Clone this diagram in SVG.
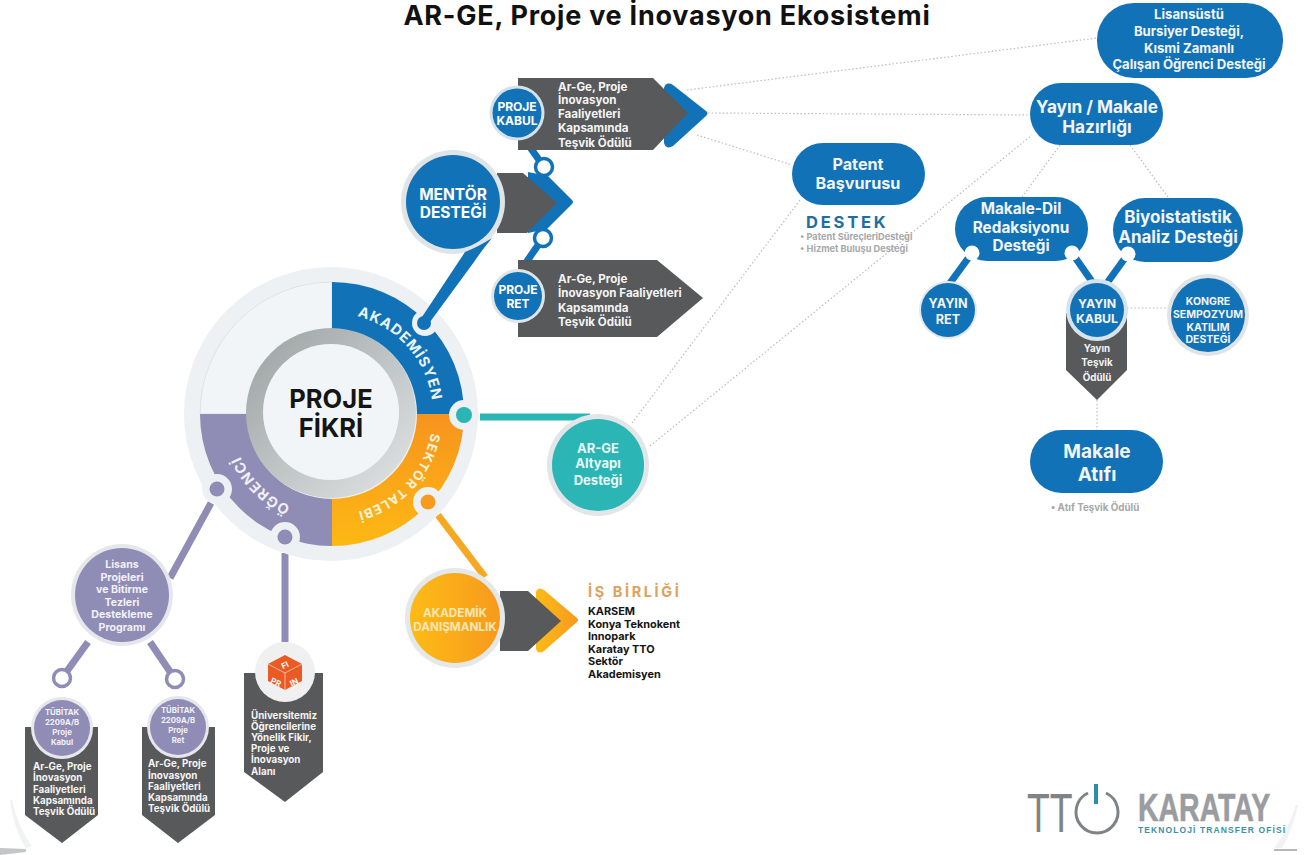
<svg xmlns="http://www.w3.org/2000/svg" xmlns:xlink="http://www.w3.org/1999/xlink" width="1310" height="855" viewBox="0 0 1310 855">
<style>
text{font-family:Inter,"Noto Sans","Liberation Sans",sans-serif;font-weight:700}
.w{fill:#fff}.m{text-anchor:middle}.d{fill:#f2f5f7}
.blue{fill:#1272b8}.gray{fill:#58595b}.halo{fill:#dfe4e7}.pur{fill:#8f8cb5}
.dot{fill:none;stroke:#b9bcbe;stroke-width:1.2;stroke-dasharray:1.5 2.2}
.ln{fill:none;stroke-width:7}
.lb{stroke:#1272b8}.lp{stroke:#8f8cb5}.lo{stroke:#f7a823}.lt{stroke:#2bb5b5}
.ring{stroke-width:3.5;fill:#fff}
.note{fill:#a6a8aa;font-size:9.2px}
.t10{font-size:9.8px;fill:#f4f4f4}.t12{font-size:11.6px;fill:#f4f4f4}
.list{font-size:10.9px;fill:#151515}
.logo{font-family:"Liberation Sans",sans-serif}
</style>
<defs>
<linearGradient id="or" x1="0" y1="0" x2="0" y2="1"><stop offset="0" stop-color="#f7931e"/><stop offset="1" stop-color="#fdb913"/></linearGradient>
<linearGradient id="ak" x1="0" y1="0" x2="1" y2="0"><stop offset="0" stop-color="#fdbb16"/><stop offset="1" stop-color="#f79a1e"/></linearGradient>
<linearGradient id="inn" x1="0" y1="0" x2="1" y2="1"><stop offset="0" stop-color="#9aa1a1"/><stop offset="1" stop-color="#e3e6e6"/></linearGradient>
<path id="a1" d="M332,313A101,101 0 0 1 433,414"/>
<path id="a2" d="M433,414A101,101 0 0 1 332,515"/>
<path id="a3" d="M332,515A101,101 0 0 1 231,414"/>
</defs>
<rect width="1310" height="855" fill="#fff"/>

<g id="corners">
<path d="M0,848L26,849L26,852L0,855Z" fill="#c4c6c8"/><path d="M1274,849L1297,849L1297,851L1274,851Z" fill="#b4b6b8"/>
<path d="M12,800Q18,828 32,846L26,848Q14,830 10,800Z" fill="#f1f2f3"/><path d="M1296,805Q1288,830 1274,848L1282,848Q1292,832 1298,805Z" fill="#f1f2f3"/>
</g>

<text id="title" x="667" y="25" class="m" font-size="27" fill="#111" style="letter-spacing:.75px">AR-GE, Proje ve İnovasyon Ekosistemi</text>

<g id="connectors">
<path class="dot" d="M687,90L1097,38"/>
<path class="dot" d="M708,113L1030,115"/>
<path class="dot" d="M697,135L792,165"/>
<path class="dot" d="M632,423L800,200"/>
<path class="dot" d="M650,446L1032,135"/>
<path class="dot" d="M1060,145L1022,197"/>
<path class="dot" d="M1130,145L1168,197"/>
<path class="dot" d="M1127,308L1170,308"/>
<path class="dot" d="M1097,400L1097,430"/>
<path class="ln lb" d="M527,143L544,167"/>
<path class="ln lb" d="M543,238L523,267"/>
<path class="ln lb" d="M972,253L950,283"/>
<path class="ln lb" d="M1072,253L1093,283"/>
<path class="ln lb" d="M1128,254L1107,283"/>
<path class="ln lt" d="M480,417L590,417"/>
<path class="ln lo" d="M438,515L485,577"/>
<path class="ln lp" d="M211,503L170,578"/>
<path class="ln lp" d="M88,642L62,678"/>
<path class="ln lp" d="M150,642L175,679"/>
<path class="ln lp" d="M285,553L285,642"/>
</g>

<g id="proje-fikri">
<circle cx="331" cy="414" r="147" fill="#edf1f3"/>
<path d="M200,414A132,132 0 0 1 332,282L332,329A85,85 0 0 0 247,414Z" fill="#f2f5f7" stroke="#dfe3e6"/>
<path class="blue" d="M332,282A132,132 0 0 1 464,414L417,414A85,85 0 0 0 332,329Z"/>
<path fill="url(#or)" d="M464,414A132,132 0 0 1 332,546L332,499A85,85 0 0 0 417,414Z"/>
<path class="pur" d="M332,546A132,132 0 0 1 200,414L247,414A85,85 0 0 0 332,499Z"/>
<circle cx="331" cy="413" r="85" fill="url(#inn)"/>
<circle cx="331" cy="412" r="68" fill="#f2f5f7"/>
<text x="331" y="408" class="m" font-size="25.5" fill="#151515">PROJE</text>
<text x="331" y="437" class="m" font-size="25.5" fill="#151515">FİKRİ</text>
<text font-size="14.5" fill="#e9f4fb" style="letter-spacing:1px"><textPath xlink:href="#a1" href="#a1" startOffset="54%" text-anchor="middle">AKADEMİSYEN</textPath></text>
<text font-size="13" fill="#fff3da" style="letter-spacing:1px"><textPath xlink:href="#a2" href="#a2" startOffset="48%" text-anchor="middle">SEKTÖR TALEBİ</textPath></text>
<text font-size="14.5" fill="#f0effa" style="letter-spacing:1px"><textPath xlink:href="#a3" href="#a3" startOffset="50%" text-anchor="middle">ÖĞRENCİ</textPath></text>
<circle cx="425" cy="323" r="13" fill="#edf1f3"/>
<circle cx="464" cy="415" r="15" fill="#edf1f3"/><circle cx="464" cy="415" r="8" fill="#2bb5b5"/>
<circle cx="428" cy="502" r="15" fill="#edf1f3"/><circle cx="428" cy="502" r="7.5" fill="#f79a1e"/>
<circle cx="217" cy="489" r="15" fill="#edf1f3"/><circle cx="217" cy="489" r="7.5" class="pur"/>
<circle cx="285" cy="537" r="15" fill="#edf1f3"/><circle cx="285" cy="537" r="7.5" class="pur"/>
</g>

<g id="proje-kabul">
<path class="blue" d="M664,88Q666,81 673,85L706,111Q709,113 706,116L673,146Q666,150 664,143Z"/>
<path class="gray" d="M518,78L653,78L688,113L653,150L518,150Z"/>
<circle cx="517" cy="113" r="27.5" fill="#d6e2ea"/><circle cx="517" cy="113" r="24.5" class="blue"/>
<text class="m w" x="517" y="111" font-size="12">PROJE</text><text class="m w" x="517" y="125" font-size="12">KABUL</text>
<g class="t12"><text x="558" y="91">Ar-Ge, Proje</text><text x="558" y="104">İnovasyon</text><text x="558" y="118">Faaliyetleri</text><text x="558" y="132">Kapsamında</text><text x="558" y="147">Teşvik Ödülü</text></g>
</g>

<g id="mentor-destegi">
<path class="blue" d="M528,172L548,176L572,200Q574,202 572,204L547,229L528,233Z"/>
<path class="gray" d="M497,173L523,173L557,203L527,233L497,233Z"/>
<circle cx="453" cy="202" r="52" class="halo"/><circle cx="453" cy="202" r="47" class="blue"/>
<text class="m w" x="453" y="200" font-size="15.5">MENTÖR</text><text class="m w" x="453" y="218" font-size="15.5">DESTEĞİ</text>
</g>

<g id="proje-ret">
<path class="gray" d="M518,260L657,260L703,298L657,337L518,337Z"/>
<circle cx="518" cy="296" r="27" fill="#dfe6ea"/><circle cx="518" cy="296" r="24" class="blue"/>
<text class="m w" x="518" y="294" font-size="12">PROJE</text><text class="m w" x="518" y="308" font-size="12">RET</text>
<g class="t12"><text x="558" y="283">Ar-Ge, Proje</text><text x="558" y="297">İnovasyon Faaliyetleri</text><text x="558" y="312">Kapsamında</text><text x="558" y="326">Teşvik Ödülü</text></g>
</g>

<g id="arge-altyapi">
<circle cx="598" cy="465" r="51" fill="#e2e6e8"/><circle cx="598" cy="465" r="46" fill="#2bb5b5"/>
<g class="m" font-size="13" fill="#eaf8f8"><text x="598" y="453">AR-GE</text><text x="598" y="468">Altyapı</text><text x="598" y="485">Desteği</text></g>
</g>

<g id="akademik-danismanlik">
<path fill="url(#ak)" d="M536,592Q538,586 544,590L577,618Q579,620 577,622L544,651Q538,655 536,649Z"/>
<path class="gray" d="M500,591L528,591L561,621L528,651L500,651Z"/>
<circle cx="455" cy="618" r="50" fill="#e4e8ea"/><circle cx="455" cy="618" r="45" fill="url(#ak)"/>
<g class="m" font-size="11.7" fill="#fbe7b5"><text x="455" y="617">AKADEMİK</text><text x="455" y="631">DANIŞMANLIK</text></g>
</g>

<g id="is-birligi">
<text x="588" y="597" font-size="14.5" fill="#dca25e" style="letter-spacing:2.6px">İŞ BİRLİĞİ</text>
<g class="list"><text x="588" y="615">KARSEM</text><text x="588" y="628">Konya Teknokent</text><text x="588" y="640">Innopark</text><text x="588" y="653">Karatay TTO</text><text x="588" y="665">Sektör</text><text x="588" y="678">Akademisyen</text></g>
</g>

<g id="lisans-destek">
<circle cx="122" cy="595" r="51" fill="#e6e7ec"/><circle cx="122" cy="595" r="47" class="pur"/>
<g class="m" font-size="10.6" fill="#f2f1f8"><text x="122" y="568">Lisans</text><text x="122" y="581">Projeleri</text><text x="122" y="593">ve Bitirme</text><text x="122" y="606">Tezleri</text><text x="122" y="618">Destekleme</text><text x="122" y="631">Programı</text></g>
</g>

<g id="tubitak-kabul">
<path class="gray" d="M25,727L98,727L98,815L62,843L25,815Z"/>
<circle cx="62" cy="728" r="31" fill="#e6e7ec"/><circle cx="62" cy="728" r="28" class="pur"/>
<g class="m" font-size="7.8" fill="#f2f1f8"><text x="62" y="715">TÜBİTAK</text><text x="62" y="725">2209A/B</text><text x="62" y="735">Proje</text><text x="62" y="745">Kabul</text></g>
<g class="t10"><text x="33" y="770">Ar-Ge, Proje</text><text x="33" y="781">İnovasyon</text><text x="33" y="793">Faaliyetleri</text><text x="33" y="804">Kapsamında</text><text x="33" y="815">Teşvik Ödülü</text></g>
</g>

<g id="tubitak-ret">
<path class="gray" d="M142,727L215,727L215,815L178,843L142,815Z"/>
<circle cx="178" cy="727" r="31" fill="#e6e7ec"/><circle cx="178" cy="727" r="28" class="pur"/>
<g class="m" font-size="7.8" fill="#f2f1f8"><text x="178" y="713">TÜBİTAK</text><text x="178" y="723">2209A/B</text><text x="178" y="733">Proje</text><text x="178" y="743">Ret</text></g>
<g class="t10"><text x="148" y="767">Ar-Ge, Proje</text><text x="148" y="779">İnovasyon</text><text x="148" y="790">Faaliyetleri</text><text x="148" y="801">Kapsamında</text><text x="148" y="812">Teşvik Ödülü</text></g>
</g>

<g id="fikir-proje-inovasyon">
<path class="gray" d="M244,673L323,673L323,772L285,802L244,772Z"/>
<circle cx="285" cy="672" r="30" fill="#f0f0f0"/>
<path d="M285,655L302,664L302,681L285,690L268,681L268,664Z" fill="#ea5a24"/>
<path d="M268,664L285,673L302,664M285,673L285,690" fill="none" stroke="#f7b79d" stroke-width="1"/>
<text x="285" y="668" class="m w" font-size="8" transform="rotate(-25 285 665)">FI</text>
<text x="276" y="685" class="m w" font-size="8" transform="rotate(25 276 682)">PR</text>
<text x="294" y="685" class="m w" font-size="8" transform="rotate(-25 294 682)">IN</text>
<g class="t10"><text x="251" y="719">Üniversitemiz</text><text x="251" y="730">Öğrencilerine</text><text x="251" y="741">Yönelik Fikir,</text><text x="251" y="752">Proje ve</text><text x="251" y="763">İnovasyon</text><text x="251" y="775">Alanı</text></g>
</g>

<g id="patent">
<rect x="792" y="143" width="133" height="62" rx="31" class="blue"/>
<g class="m d" font-size="16.2"><text x="858" y="170">Patent</text><text x="858" y="189">Başvurusu</text></g>
<text x="806" y="228" font-size="16.5" fill="#1c6ea4" style="letter-spacing:2.8px">DESTEK</text>
<text x="800" y="240" class="note">• Patent SüreçleriDesteği</text>
<text x="800" y="252" class="note">• Hizmet Buluşu Desteği</text>
</g>

<g id="lisansustu">
<rect x="1097" y="3" width="186" height="75" rx="37" class="blue"/>
<g class="m d" font-size="13.1"><text x="1189" y="19">Lisansüstü</text><text x="1189" y="36">Bursiyer Desteği,</text><text x="1189" y="53">Kısmi Zamanlı</text><text x="1189" y="69">Çalışan Öğrenci Desteği</text></g>
</g>

<g id="yayin-makale">
<rect x="1030" y="83" width="133" height="62" rx="31" class="blue"/>
<g class="m d" font-size="17.2"><text x="1097" y="113">Yayın / Makale</text><text x="1097" y="133">Hazırlığı</text></g>
</g>

<g id="makale-dil">
<rect x="955" y="197" width="133" height="64" rx="32" class="blue"/>
<g class="m d" font-size="15.3"><text x="1021" y="214">Makale-Dil</text><text x="1021" y="233">Redaksiyonu</text><text x="1021" y="251">Desteği</text></g>
</g>

<g id="biyoistatistik">
<rect x="1113" y="198" width="130" height="64" rx="32" class="blue"/>
<g class="m d" font-size="17"><text x="1178" y="223">Biyoistatistik</text><text x="1178" y="243">Analiz Desteği</text></g>
</g>

<g id="yayin-ret">
<circle cx="948" cy="310" r="29" fill="#e2e8ec"/><circle cx="948" cy="310" r="27" class="blue"/>
<g class="m d" font-size="12.6"><text x="948" y="308">YAYIN</text><text x="948" y="324">RET</text></g>
</g>

<g id="yayin-kabul">
<path class="gray" d="M1066,313L1127,313L1127,370L1097,400L1066,370Z"/>
<circle cx="1097" cy="310" r="31" fill="#d8e4ec"/><circle cx="1097" cy="310" r="27" class="blue"/>
<g class="m d" font-size="12.3"><text x="1097" y="308">YAYIN</text><text x="1097" y="323">KABUL</text></g>
<g class="m t10"><text x="1097" y="352">Yayın</text><text x="1097" y="366">Teşvik</text><text x="1097" y="381">Ödülü</text></g>
</g>

<g id="kongre">
<circle cx="1208" cy="315" r="41" fill="#e0e4e7"/><circle cx="1208" cy="315" r="37" class="blue"/>
<g class="m d" font-size="10.5"><text x="1208" y="305">KONGRE</text><text x="1208" y="318">SEMPOZYUM</text><text x="1208" y="331">KATILIM</text><text x="1208" y="343">DESTEĞİ</text></g>
</g>

<g id="makale-atifi">
<rect x="1030" y="430" width="133" height="63" rx="31.5" class="blue"/>
<g class="m d" font-size="19"><text x="1097" y="458">Makale</text><text x="1097" y="481">Atıfı</text></g>
<text x="1095" y="511" class="m note" style="font-size:9.8px">• Atıf Teşvik Ödülü</text>
</g>

<g id="connector-joints">
<path class="blue" d="M420,320L427,326L474,262Q482,250 492,238Q478,247 465,252Z"/>
<circle cx="424" cy="323" r="7" class="blue"/>
<circle class="ring lb" cx="544" cy="167" r="8.5"/>
<circle class="ring lb" cx="543" cy="238" r="8.5"/>
<circle cx="972" cy="253" r="7.5" fill="#fff"/>
<circle cx="1072" cy="253" r="7.5" fill="#fff"/>
<circle cx="1128" cy="254" r="7.5" fill="#fff"/>
<circle class="ring lp" cx="62" cy="678" r="8.5"/>
<circle class="ring lp" cx="175" cy="679" r="8.5"/>
</g>

<g id="logo">
<text class="logo" transform="translate(1027,832) scale(.68,1)" style="font-weight:400" font-size="55" fill="#808386">TT</text>
<path d="M1088,793A21,21 0 1 0 1106,793" fill="none" stroke="#808386" stroke-width="3"/>
<rect x="1094" y="784" width="4" height="20" fill="#2a8fa8"/>
<text class="logo" transform="translate(1138,821) scale(.73,1)" font-size="39" fill="#9a9c9f" stroke="#9a9c9f" stroke-width=".6">KARATAY</text>
<text class="logo" x="1138" y="833" font-size="8.5" fill="#3c8fa6" style="letter-spacing:1.1px">TEKNOLOJİ TRANSFER OFİSİ</text>
</g>
</svg>
